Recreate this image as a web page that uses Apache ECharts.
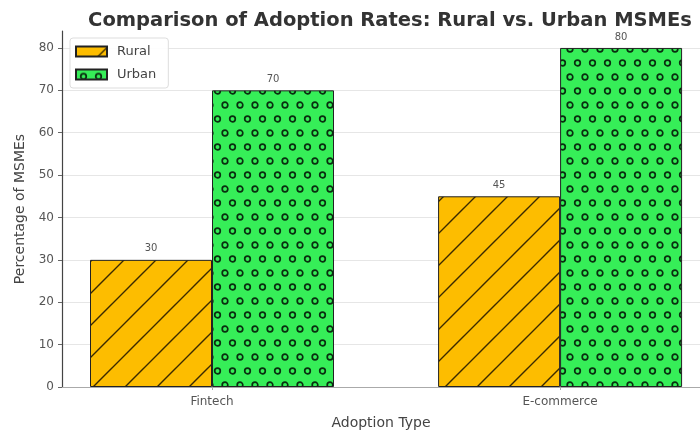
<!DOCTYPE html>
<html>
<head>
<meta charset="utf-8">
<script src="https://cdn.jsdelivr.net/npm/echarts@6/dist/echarts.min.js"></script>
<style>
  html, body { margin: 0; padding: 0; background: #fff; }
  #chart { width: 700px; height: 435px; }
</style>
</head>
<body>
<div id="chart"></div>
<script>
// Adoption rates by MSME location
const categories = ['Fintech', 'E-commerce'];
const ruralValues = [30, 45];
const urbanValues = [70, 80];
const yTicks = [0, 10, 20, 30, 40, 50, 60, 70, 80];

// Hatched fills drawn on small canvases and tiled across the bars
function hatchPattern() {
  const s = 32;
  const c = document.createElement('canvas');
  c.width = s; c.height = s;
  const g = c.getContext('2d');
  g.fillStyle = '#FDBD00';
  g.fillRect(0, 0, s, s);
  g.strokeStyle = '#3b2a00';
  g.lineWidth = 1.4;
  g.beginPath();
  g.moveTo(0, s); g.lineTo(s, 0);
  g.moveTo(-2, 2); g.lineTo(2, -2);
  g.moveTo(s - 2, s + 2); g.lineTo(s + 2, s - 2);
  g.stroke();
  return c;
}

function dotPattern() {
  const w = 15, h = 28;
  const c = document.createElement('canvas');
  c.width = w; c.height = h;
  const g = c.getContext('2d');
  g.fillStyle = '#36EE58';
  g.fillRect(0, 0, w, h);
  g.strokeStyle = '#0a2e10';
  g.lineWidth = 1.7;
  const rings = [[7.5, 7], [0, 21], [15, 21]];
  rings.forEach(([x, y]) => {
    g.beginPath();
    g.arc(x, y, 2.8, 0, Math.PI * 2);
    g.stroke();
  });
  return c;
}

const ruralFill = { image: hatchPattern(), repeat: 'repeat' };
const urbanFill = { image: dotPattern(), repeat: 'repeat' };

const chart = echarts.init(document.getElementById('chart'), null, { renderer: 'canvas' });

const positions = categories.map((_, i) => i);
const valueLabel = {
  show: true,
  position: 'top',
  distance: 6,
  fontSize: 10,
  color: '#555',
  fontFamily: 'DejaVu Sans'
};

chart.setOption({
  animation: false,
  backgroundColor: '#fff',
  textStyle: { fontFamily: 'DejaVu Sans' },
  title: {
    text: 'Comparison of Adoption Rates: Rural vs. Urban MSMEs',
    left: 385,
    top: 6,
    textAlign: 'center',
    textStyle: { fontSize: 19.5, fontWeight: 'bold', color: '#333', fontFamily: 'DejaVu Sans' }
  },
  legend: {
    orient: 'vertical',
    left: 70,
    top: 38,
    padding: [7, 12, 7, 5],
    itemGap: 10,
    itemWidth: 31,
    itemHeight: 10,
    icon: 'rect',
    backgroundColor: 'rgba(255,255,255,0.9)',
    borderColor: '#ddd',
    borderWidth: 1,
    borderRadius: 3,
    textStyle: { fontSize: 13, color: '#444', fontFamily: 'DejaVu Sans', padding: [0, 0, 0, 5] },
    data: ['Rural', 'Urban']
  },
  grid: { left: 62, right: 0, top: 31, bottom: 44, containLabel: false },
  xAxis: {
    type: 'value',
    min: -0.431,
    max: 1.402,
    name: 'Adoption Type',
    nameLocation: 'middle',
    nameGap: 29,
    nameTextStyle: { fontSize: 14, color: '#444' },
    axisLine: { show: true, onZero: false, lineStyle: { color: '#aaa', width: 1.2 } },
    axisTick: { show: true, customValues: positions, length: 3, lineStyle: { color: '#aaa' } },
    axisLabel: {
      customValues: positions,
      formatter: v => categories[Math.round(v)],
      fontSize: 12,
      color: '#555',
      margin: 9
    },
    splitLine: { show: false }
  },
  yAxis: {
    type: 'value',
    min: 0,
    max: 84,
    interval: 10,
    name: 'Percentage of MSMEs',
    nameLocation: 'middle',
    nameGap: 34,
    nameTextStyle: { fontSize: 14, color: '#444' },
    axisLine: { show: true, onZero: false, lineStyle: { color: '#444', width: 1.2 } },
    axisTick: { show: true, length: 4, lineStyle: { color: '#666' } },
    axisLabel: {
      showMaxLabel: false,
      formatter: v => (yTicks.indexOf(v) >= 0 ? String(v) : ''),
      fontSize: 12,
      color: '#555',
      margin: 8
    },
    splitLine: { show: true, showMaxLine: false, lineStyle: { color: '#e6e6e6', width: 1 } }
  },
  series: [
    {
      name: 'Rural',
      type: 'bar',
      barWidth: 122,
      barGap: '0%',
      data: positions.map((p, i) => [p, ruralValues[i]]),
      itemStyle: { color: ruralFill, borderColor: '#222', borderWidth: 1 },
      label: valueLabel
    },
    {
      name: 'Urban',
      type: 'bar',
      barWidth: 122,
      barGap: '0%',
      data: positions.map((p, i) => [p, urbanValues[i]]),
      itemStyle: { color: urbanFill, borderColor: '#222', borderWidth: 1 },
      label: valueLabel
    }
  ]
});
</script>
</body>
</html>
